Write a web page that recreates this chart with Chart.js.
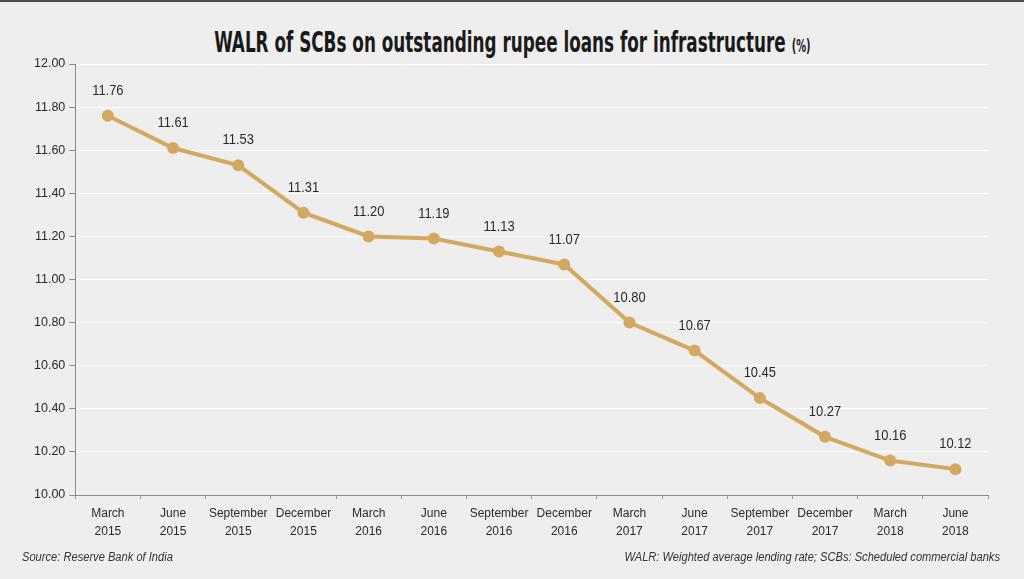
<!DOCTYPE html>
<html>
<head>
<meta charset="utf-8">
<script src="https://cdn.jsdelivr.net/npm/chart.js@4/dist/chart.umd.min.js"></script>
<style>
    html, body { margin: 0; padding: 0; }
    body { width: 1024px; height: 579px; background: #eeeeee; position: relative; overflow: hidden; font-family: 'Liberation Sans', Arial, sans-serif; }
    .top-rule { position: absolute; left: 0; top: 0; width: 1024px; height: 2px; background: #4a4a4a; }
    #chartTitle { position: absolute; left: 0; top: 25px; width: 1024px; text-align: center; }
    #chartTitle span { display: inline-block; transform: scaleX(0.645); transform-origin: center; white-space: nowrap; font-family: 'DejaVu Sans Condensed', 'DejaVu Sans', sans-serif; font-weight: bold; font-size: 29px; color: #1a1a1a; }
    #chartTitle small { font-size: 17px; }
    .note { position: absolute; top: 550px; white-space: nowrap; font-style: italic; font-size: 12.5px; color: #333; transform: scaleX(0.89); }
    #source { left: 22px; transform-origin: left center; }
    #legendNote { right: 24px; transform-origin: right center; }
    #walrChart { position: absolute; left: 0; top: 0; }
</style>
</head>
<body>
<div class="top-rule"></div>
<div id="chartTitle"><span>WALR of SCBs on outstanding rupee loans for infrastructure <small>(%)</small></span></div>
<canvas id="walrChart" width="1024" height="579"></canvas>
<div class="note" id="source">Source: Reserve Bank of India</div>
<div class="note" id="legendNote">WALR: Weighted average lending rate; SCBs: Scheduled commercial banks</div>
<script>
const quarters = [
    ['March', '2015'], ['June', '2015'], ['September', '2015'], ['December', '2015'],
    ['March', '2016'], ['June', '2016'], ['September', '2016'], ['December', '2016'],
    ['March', '2017'], ['June', '2017'], ['September', '2017'], ['December', '2017'],
    ['March', '2018'], ['June', '2018']
];
const walrValues = [11.76, 11.61, 11.53, 11.31, 11.20, 11.19, 11.13, 11.07, 10.80, 10.67, 10.45, 10.27, 10.16, 10.12];
const yTicks = [10.0, 10.2, 10.4, 10.6, 10.8, 11.0, 11.2, 11.4, 11.6, 11.8, 12.0];

const LINE_COLOR = '#d3a962';

// value above each point, slightly narrowed like the original's type
const pointLabels = {
    id: 'pointLabels',
    afterDatasetsDraw(chart) {
        const ctx = chart.ctx;
        const meta = chart.getDatasetMeta(0);
        ctx.save();
        ctx.font = '15px "Liberation Sans", Arial, sans-serif';
        ctx.fillStyle = '#2a2a2a';
        ctx.textAlign = 'center';
        ctx.textBaseline = 'middle';
        meta.data.forEach((point, index) => {
            ctx.save();
            ctx.translate(point.x, point.y - 25);
            ctx.scale(0.86, 1);
            ctx.fillText(walrValues[index].toFixed(2), 0, 0);
            ctx.restore();
        });
        ctx.restore();
    }
};

new Chart(document.getElementById('walrChart'), {
    type: 'line',
    data: {
        labels: quarters,
        datasets: [
            {
                data: walrValues,
                borderColor: LINE_COLOR,
                backgroundColor: LINE_COLOR,
                borderWidth: 4,
                pointRadius: 6,
                pointHoverRadius: 6,
                pointBorderWidth: 0,
                tension: 0
            }
        ]
    },
    options: {
        responsive: false,
        animation: false,
        events: [],
        layout: {
            padding: { left: 30, right: 36, top: 64, bottom: 32 }
        },
        plugins: {
            legend: { display: false },
            tooltip: { enabled: false }
        },
        scales: {
            x: {
                offset: true,
                border: { color: '#8a8a8a', width: 1 },
                grid: { drawOnChartArea: false, drawTicks: true, tickLength: 4, color: '#9a9a9a', offset: true },
                ticks: {
                    color: '#2a2a2a',
                    font: { family: '"Liberation Sans", Arial, sans-serif', size: 12, lineHeight: 1.5 },
                    padding: 6,
                    maxRotation: 0,
                    autoSkip: false
                }
            },
            y: {
                min: 10,
                max: 12,
                afterBuildTicks: (axis) => {
                    axis.ticks = yTicks.map((value) => ({ value }));
                },
                border: { color: '#8a8a8a', width: 1 },
                grid: { color: '#ffffff', lineWidth: 1, tickColor: '#8a8a8a', tickLength: 6 },
                ticks: {
                    color: '#2a2a2a',
                    font: { family: '"Liberation Sans", Arial, sans-serif', size: 12.5 },
                    padding: 4,
                    callback: (value) => Number(value).toFixed(2)
                }
            }
        }
    },
    plugins: [pointLabels]
});
</script>
</body>
</html>
